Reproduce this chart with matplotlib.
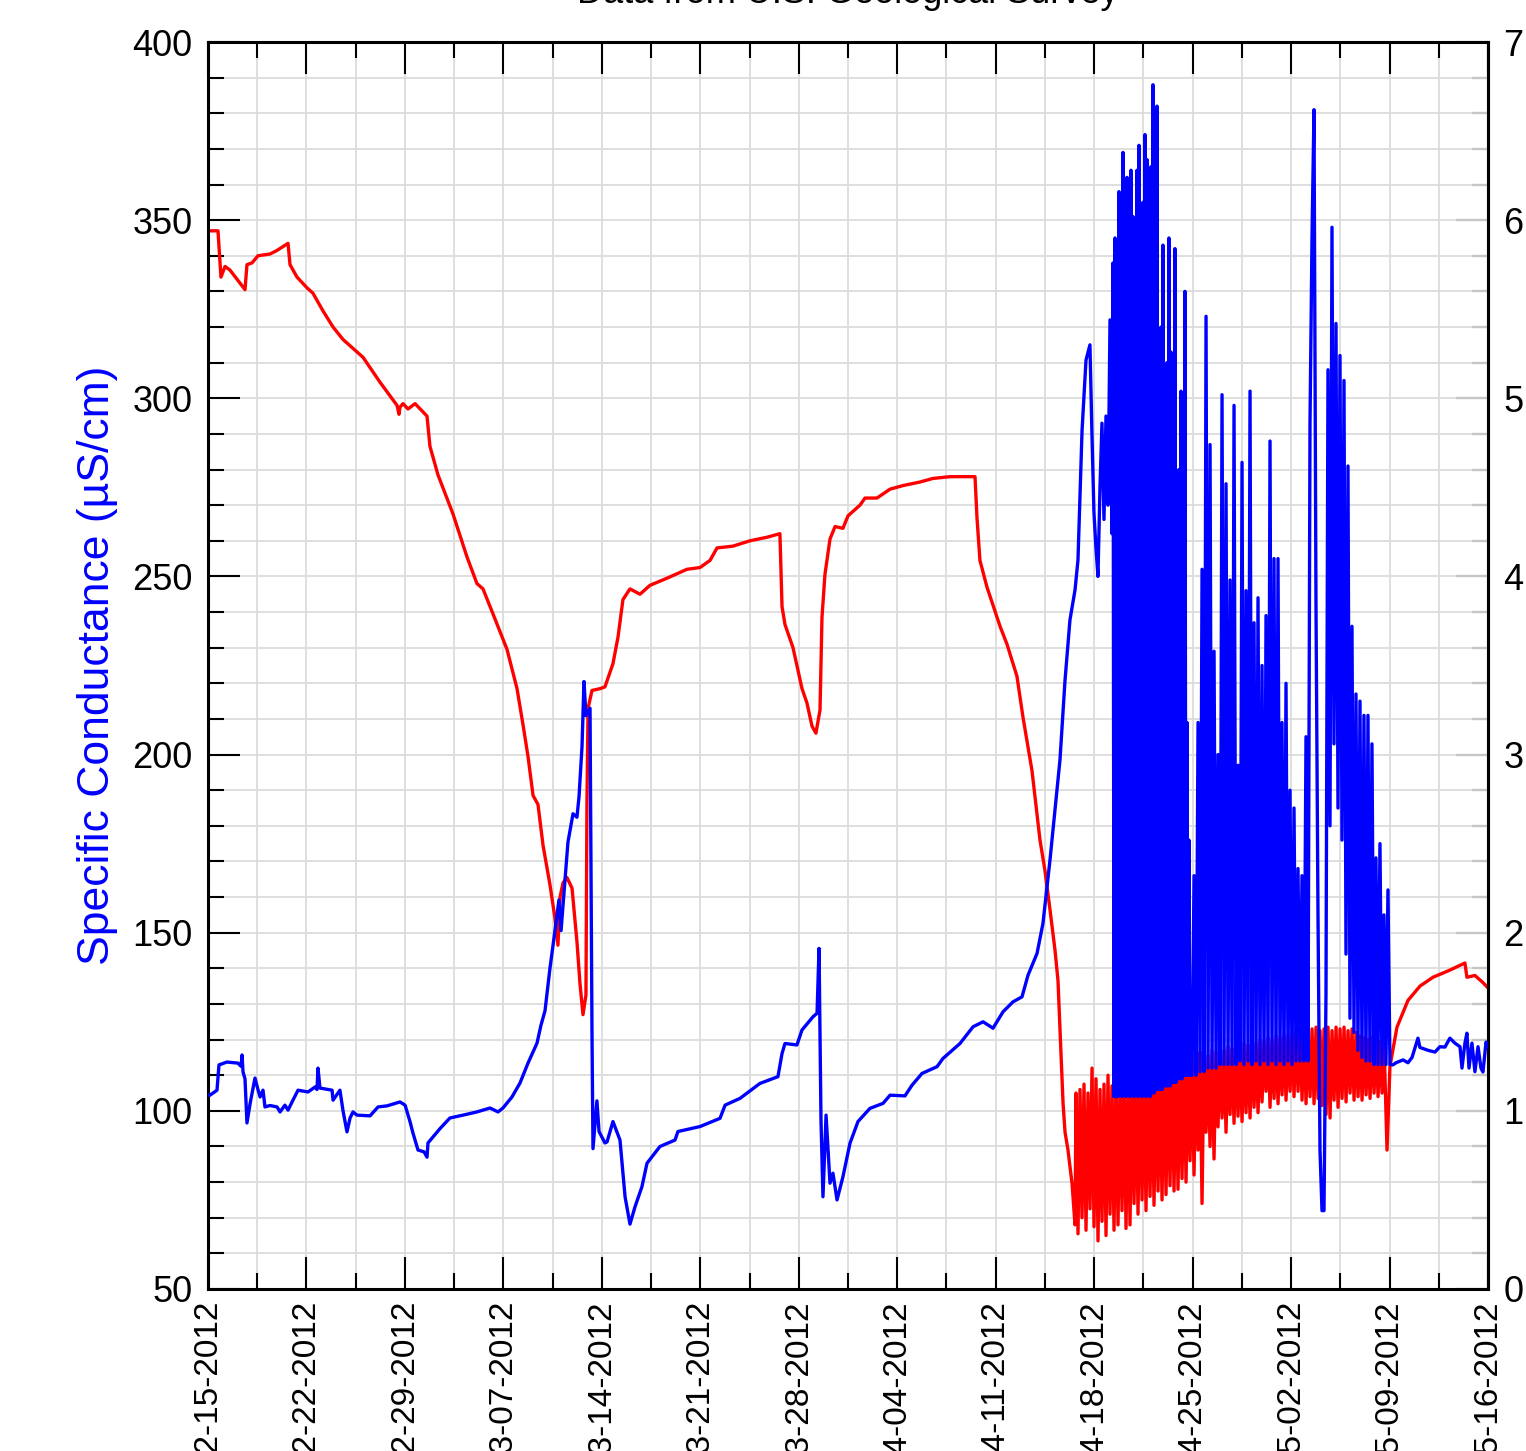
import numpy as np
import pandas as pd
import matplotlib
matplotlib.use("Agg")
import matplotlib.pyplot as plt
import matplotlib.dates as mdates
from matplotlib.ticker import MultipleLocator, FixedLocator

plt.rcParams['font.family'] = ['Liberation Sans', 'DejaVu Sans']

start = pd.Timestamp('2012-02-15')
end = pd.Timestamp('2012-05-16')

# specific conductance, uS/cm (left axis), days after start
cond_day = [0.00, 0.14, 0.64, 0.78, 1.35, 2.13, 2.35, 2.42, 2.49, 2.63, 2.77, 2.99,
            3.34, 3.55, 3.70, 3.91, 4.05, 4.41, 4.91, 5.12, 5.47, 5.69, 6.04, 6.40,
            7.11, 7.61, 7.75, 7.82, 7.96, 8.82, 8.89, 9.38, 9.60, 9.88, 10.10, 10.31,
            10.59, 11.52, 12.09, 12.73, 13.65, 14.01, 14.36, 14.57, 14.93, 15.36, 15.57,
            15.64, 16.00, 16.49, 17.20, 18.13, 19.12, 20.05, 20.62, 20.97, 21.61, 22.18,
            22.75, 23.39, 23.67, 23.96, 24.31, 24.67, 24.95, 25.10, 25.38, 25.59, 25.95,
            26.23, 26.38, 26.59, 26.73, 26.87, 27.02, 27.16, 27.30, 27.37, 27.65, 27.80,
            28.22, 28.37, 28.79, 29.29, 29.65, 30.00, 30.36, 30.85, 31.21, 32.13, 33.20,
            33.41, 34.98, 36.40, 36.76, 37.82, 39.24, 40.52, 40.81, 41.02, 41.87, 42.23,
            43.01, 43.30, 43.44, 43.58, 43.72, 43.94, 44.22, 44.43, 44.72, 45.14, 45.64,
            46.21, 47.06, 47.99, 48.49, 49.55, 50.05, 50.76, 51.83, 52.25, 53.46, 54.39,
            55.10, 55.81, 56.52, 57.23, 57.87, 58.30, 58.94, 59.36, 59.86, 60.57, 60.93,
            61.28, 61.64, 61.85, 62.14, 62.42]
cond = [104.5, 104.4, 105.8, 112.9, 113.7, 113.4, 112.5, 115.7, 110.9, 109.0, 96.6, 102.0,
        109.2, 106.0, 103.9, 105.8, 101.1, 101.5, 101.1, 99.7, 101.6, 100.2, 103.0, 105.8,
        105.3, 106.7, 106.0, 112.0, 106.4, 105.8, 103.0, 105.8, 100.0, 94.1, 98.0, 99.7,
        98.8, 98.6, 101.1, 101.4, 102.5, 101.6, 97.0, 93.8, 89.0, 88.5, 87.0,
        91.0, 92.7, 95.0, 98.0, 98.8, 99.7, 100.8, 99.7, 100.8, 103.9, 107.8,
        113.4, 119.0, 124.0, 128.1, 140.0, 150.6, 159.2, 150.6, 164.6, 175.4, 183.4,
        182.4, 188.3, 202.3, 220.5, 210.9, 212.0, 213.0, 121.6, 89.4, 102.8, 94.2,
        91.0, 91.3, 97.0, 91.8, 75.9, 68.2, 73.1, 78.7, 85.3, 90.0, 91.8,
        94.2, 95.6, 97.9, 101.6, 103.5, 107.7, 109.6, 116.1, 118.9, 118.5, 122.7,
        126.4, 127.4, 145.6, 97.4, 75.9, 98.8, 79.7, 82.5, 75.0, 81.5, 90.9,
        97.0, 100.7, 102.1, 104.4, 104.2, 107.2, 110.5, 112.4, 114.7, 118.9, 123.6,
        125.0, 123.2, 127.8, 130.6, 132.0, 138.1, 144.2, 152.6, 170.4, 198.5, 220.9,
        237.8, 246.2, 254.6, 291.0, 310.7]

# spiky stretches, regular samples between the given days
cond_burst_a_from, cond_burst_a_to = 62.70, 64.27
cond_burst_a = [315, 290, 268, 258, 250, 275, 293, 266, 295, 270, 322, 262]

cond_burst_b_from, cond_burst_b_to = 64.34, 69.81
cond_burst_b = [338, 104, 345, 104, 330, 104, 358, 105, 340, 104, 369, 105, 350,
                104, 362, 105, 338, 104, 364, 105, 351, 104, 343, 105, 364, 104,
                371, 105, 340, 104, 355, 105, 374, 104, 367, 105, 359, 104, 365,
                105, 388, 105, 299, 106, 382, 106, 281, 106, 320, 106, 343, 107,
                292, 107, 310, 107, 345, 107, 313, 108, 298, 108, 342, 108, 258,
                109, 280, 109, 302, 109, 255, 110, 330, 110, 209, 110, 176, 110]

cond_burst_c_from, cond_burst_c_to = 69.96, 84.03
cond_burst_c = [110, 166, 110, 209, 111, 252, 111, 323, 112, 287, 112, 229, 112, 200,
                113, 301, 113, 276, 113, 249, 113, 298, 113, 197, 114, 282, 113, 246,
                114, 302, 113, 237, 114, 244, 113, 225, 114, 239, 113, 288, 114, 255,
                113, 255, 114, 209, 113, 220, 114, 190, 113, 185, 114, 168, 114, 166,
                114, 205, 114, 293, 345, 381, 242, 155, 89, 72, 72, 133, 308, 180,
                348, 203, 321, 185, 312, 176, 305, 144, 281, 126, 236, 122, 217, 117,
                215, 115, 211, 114, 211, 114, 203, 113, 171, 113, 175, 113, 155, 113,
                162, 113]

cond_tail_day = [84.24, 84.46, 84.96, 85.31, 85.60, 86.02, 86.16, 86.73, 87.23, 87.58,
                 87.94, 88.29, 88.65, 89.01, 89.15, 89.36, 89.50, 89.65, 89.86, 90.07,
                 90.29, 90.50, 90.64, 90.86, 91.00]
cond_tail = [112.9, 113.5, 114.3, 113.5, 115.0, 120.4, 117.8, 117.0, 116.5, 118.0,
             117.9, 120.4, 119.0, 118.0, 112.0, 119.0, 121.8, 112.0, 119.0, 111.0,
             118.0, 112.0, 110.9, 119.3, 118.0]

# gage height, ft (right axis)
gage_day = [0.00, 0.71, 0.92, 1.21, 1.56, 2.63, 2.77, 3.13, 3.55, 4.41, 4.91, 5.69,
            5.83, 6.33, 7.04, 7.46, 8.18, 8.89, 9.60, 10.31, 11.02, 12.23, 13.44, 13.58,
            13.65, 13.86, 14.22, 14.72, 15.57, 15.78, 16.35, 17.42, 18.41, 19.12, 19.55,
            20.26, 21.26, 21.97, 22.39, 22.75, 23.11, 23.46, 23.82, 24.31, 24.67, 24.88,
            25.03, 25.24, 25.52, 25.88, 26.23, 26.45, 26.66, 26.87, 26.94, 27.02, 27.30,
            27.87, 28.22, 28.79, 29.15, 29.50, 30.00, 30.71, 31.42, 32.63, 34.05, 34.98,
            35.69, 36.19, 37.32, 38.53, 39.74, 40.66, 40.81, 41.02, 41.59, 41.95, 42.23,
            42.58, 42.94, 43.22, 43.51, 43.65, 43.86, 44.22, 44.58, 45.14, 45.50, 46.35,
            46.71, 47.56, 48.49, 49.41, 50.62, 51.54, 52.75, 54.53, 54.67, 54.88, 55.38,
            56.31, 56.80, 57.51, 57.94, 58.58, 59.15, 59.50, 59.86, 60.22, 60.43, 60.79,
            60.93, 61.14, 61.43, 61.64]
gage = [5.94, 5.94, 5.68, 5.74, 5.72, 5.61, 5.75, 5.76, 5.80, 5.81, 5.83, 5.87,
        5.75, 5.68, 5.62, 5.59, 5.49, 5.40, 5.33, 5.28, 5.23, 5.09, 4.96, 4.91,
        4.95, 4.97, 4.94, 4.97, 4.90, 4.73, 4.57, 4.35, 4.11, 3.96, 3.93,
        3.79, 3.59, 3.37, 3.17, 2.99, 2.77, 2.72, 2.49, 2.27, 2.08, 1.93,
        2.20, 2.28, 2.31, 2.25, 1.95, 1.71, 1.54, 1.65, 2.72, 3.26, 3.36,
        3.37, 3.38, 3.51, 3.66, 3.87, 3.93, 3.90, 3.95, 3.99, 4.04, 4.05,
        4.09, 4.16, 4.17, 4.20, 4.22, 4.24, 3.83, 3.73, 3.60, 3.47, 3.37,
        3.29, 3.16, 3.12, 3.25, 3.77, 4.01, 4.21, 4.28, 4.27, 4.34, 4.40,
        4.44, 4.44, 4.49, 4.51, 4.53, 4.55, 4.56, 4.56, 4.33, 4.09, 3.94,
        3.72, 3.62, 3.44, 3.21, 2.91, 2.52, 2.35, 2.13, 1.90, 1.73, 1.04,
        0.88, 0.78, 0.59, 0.36]

gage_burst_from, gage_burst_to = 61.71, 83.61
gage_burst = [1.10, 0.31, 1.12, 0.40, 1.15, 0.33, 1.10, 0.45, 1.24, 0.35, 1.18, 0.27,
              1.12, 0.38, 1.15, 0.30, 1.20, 0.42, 1.14, 0.33, 1.18, 0.36, 1.16, 0.44,
              1.19, 0.34, 1.17, 0.36, 1.20, 0.48, 1.18, 0.42, 1.22, 0.50, 1.20, 0.44,
              1.23, 0.52, 1.21, 0.47, 1.24, 0.55, 1.22, 0.50, 1.26, 0.53, 1.24, 0.58,
              1.27, 0.55, 1.25, 0.56, 1.28, 0.62, 1.30, 0.60, 1.28, 0.72, 1.31, 0.64,
              1.30, 0.78, 1.33, 0.48, 1.32, 0.88, 1.31, 0.80, 1.34, 0.73, 1.33, 0.91,
              1.35, 0.96, 1.34, 0.88, 1.36, 0.98, 1.35, 0.93, 1.37, 0.97, 1.36, 0.94,
              1.38, 0.99, 1.37, 0.96, 1.39, 1.02, 1.38, 0.99, 1.40, 1.05, 1.39, 1.11,
              1.41, 1.02, 1.40, 1.07, 1.42, 1.04, 1.41, 1.09, 1.43, 1.06, 1.42, 1.11,
              1.44, 1.08, 1.46, 1.11, 1.45, 1.06, 1.47, 1.04, 1.45, 1.08, 1.46, 1.04,
              1.47, 1.07, 1.45, 1.03, 1.46, 0.98, 1.47, 0.96, 1.45, 1.06, 1.47, 1.02,
              1.46, 1.07, 1.47, 1.05, 1.45, 1.10, 1.46, 1.06, 1.44, 1.08, 1.42, 1.06,
              1.41, 1.09, 1.40, 1.07, 1.41, 1.10, 1.40, 1.08, 1.39, 1.10, 1.38]

gage_tail_day = [83.82, 84.03, 84.53, 85.31, 86.16, 87.09, 88.29, 89.36, 89.50, 90.07,
                 90.64, 91.00]
gage_tail = [0.78, 1.25, 1.47, 1.62, 1.70, 1.75, 1.79, 1.83, 1.75, 1.76, 1.72, 1.69]


def to_time(days):
    return (start + pd.to_timedelta(np.asarray(days), unit='D')).to_numpy()


def ft_to_cond(ft):
    return np.asarray(ft) * 50 + 50


def cond_to_ft(c):
    return (np.asarray(c) - 50) / 50


c_days = np.concatenate([cond_day,
                         np.linspace(cond_burst_a_from, cond_burst_a_to, len(cond_burst_a)),
                         np.linspace(cond_burst_b_from, cond_burst_b_to, len(cond_burst_b)),
                         np.linspace(cond_burst_c_from, cond_burst_c_to, len(cond_burst_c)),
                         cond_tail_day])
c_vals = np.concatenate([cond, cond_burst_a, cond_burst_b, cond_burst_c, cond_tail])
g_days = np.concatenate([gage_day,
                         np.linspace(gage_burst_from, gage_burst_to, len(gage_burst)),
                         gage_tail_day])
g_vals = np.concatenate([gage, gage_burst, gage_tail])

fig = plt.figure(figsize=(15.26, 14.51), dpi=100)
ax = fig.add_axes([208 / 1526, 162 / 1451, 1280 / 1526, 1247 / 1451])

ax.plot(to_time(g_days), ft_to_cond(g_vals), color='#ff0000', lw=2.4, zorder=2)
ax.plot(to_time(c_days), c_vals, color='#0000ff', lw=2.4, zorder=3)

ax.set_xlim(start.to_pydatetime(), end.to_pydatetime())
ax.set_ylim(50, 400)

ax.yaxis.set_major_locator(MultipleLocator(50))
ax.yaxis.set_minor_locator(MultipleLocator(10))
weeks = pd.date_range(start, end, freq='7D').to_pydatetime()
half_weeks = pd.date_range(start, end, freq='84h').to_pydatetime()
ax.xaxis.set_major_locator(FixedLocator(mdates.date2num(weeks)))
ax.xaxis.set_minor_locator(FixedLocator(mdates.date2num(half_weeks)))
ax.xaxis.set_major_formatter(mdates.DateFormatter('%m-%d-%Y'))

ax.tick_params(which='major', direction='in', length=23, width=1.5, labelsize=26,
               top=True, right=False)
ax.tick_params(which='minor', direction='in', length=11.5, width=1.5, top=True, right=False)
ax.tick_params(axis='x', labelrotation=90, pad=8, labelsize=24)
ax.tick_params(axis='y', pad=11)

ax.grid(True, which='both', color='#dcdcdc', lw=1.3)
ax.set_axisbelow(True)
for s in ax.spines.values():
    s.set_linewidth(2.2)

ax.set_ylabel('Specific Conductance (µS/cm)', color='#0000ff', fontsize=32, labelpad=10)

sec = ax.secondary_yaxis('right', functions=(cond_to_ft, ft_to_cond))
sec.yaxis.set_major_locator(MultipleLocator(1))
sec.yaxis.set_minor_locator(MultipleLocator(0.2))
sec.tick_params(which='major', direction='in', length=23, width=1.5, labelsize=26, pad=11)
sec.tick_params(which='minor', direction='in', length=11.5, width=1.5)
sec.spines['right'].set_linewidth(2.2)

fig.text(848 / 1526, 1448 / 1451, 'Data from U.S. Geological Survey',
         ha='center', va='baseline', fontsize=26)

fig.savefig('out.png', dpi=100)
